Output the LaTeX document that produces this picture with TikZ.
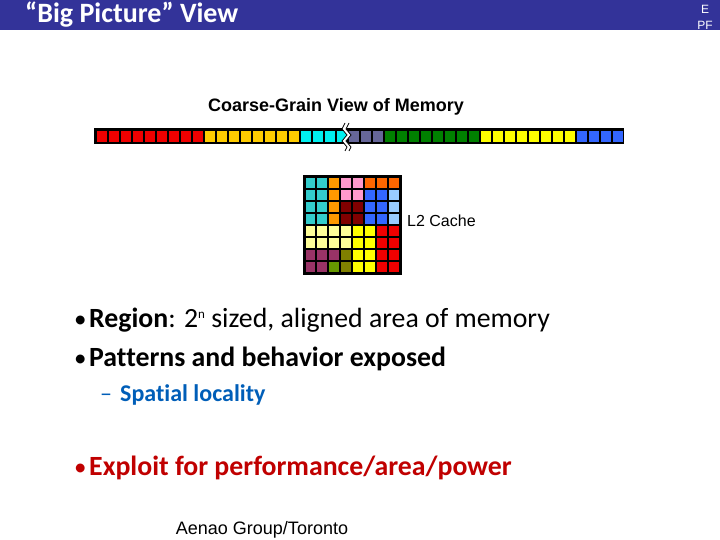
\documentclass[tikz,border=0pt]{standalone}
\usepackage{fontspec}
\setmainfont{Carlito}[Ligatures=NoCommon]
\newfontfamily\arialfont{Liberation Sans}
\usepackage{xcolor}
\usepackage{tikz}
\usetikzlibrary{positioning}

\definecolor{titleblue}{RGB}{51,51,153}
\definecolor{textred}{RGB}{192,0,0}
\definecolor{textblue}{RGB}{0,94,184}
% memory colours
\definecolor{mred}{RGB}{240,0,0}
\definecolor{mgold}{RGB}{255,204,0}
\definecolor{mcyan}{RGB}{0,240,240}
\definecolor{mslate}{RGB}{102,102,153}
\definecolor{mgreen}{RGB}{0,128,0}
\definecolor{myellow}{RGB}{255,255,0}
\definecolor{mblue}{RGB}{51,102,255}
% cache colours
\definecolor{cteal}{RGB}{51,204,204}
\definecolor{corange}{RGB}{255,153,0}
\definecolor{cpink}{RGB}{255,153,204}
\definecolor{cdorange}{RGB}{255,102,0}
\definecolor{cltblue}{RGB}{153,204,255}
\definecolor{cmaroon}{RGB}{128,0,0}
\definecolor{cltyellow}{RGB}{255,255,153}
\definecolor{cplum}{RGB}{153,51,102}
\definecolor{colive}{RGB}{128,128,0}
\definecolor{clime}{RGB}{102,153,0}

\newcommand{\bul}{\makebox[15pt][l]{\mdseries\fontsize{25}{28}\selectfont•}}

\begin{document}
\begin{tikzpicture}[
  x=1pt, y=-1pt,
  label/.style={font=\arialfont\fontsize{16}{18}\selectfont, inner sep=0pt},
  bullet/.style={anchor=base west, inner sep=0pt, font=\fontsize{27.8}{32}\selectfont},
  cell/.style={draw=black, line width=1.2pt}
]
\useasboundingbox (0,0) rectangle (720,540);

% title bar
\fill[titleblue] (0,0) rectangle (720,30);
\node (title) [anchor=base west, inner sep=0pt, text=white, font=\bfseries\fontsize{28}{32}\selectfont] at (25,23) {“Big Picture” View};
\node (tag) [inner sep=0pt, align=center, text=white, font=\arialfont\fontsize{12}{16}\selectfont] at (705,17) {E\\PF};

% coarse-grain memory strip
\node (memlabel) [label, anchor=base, font=\arialfont\bfseries\fontsize{18}{20}\selectfont] at (336,112) {Coarse-Grain View of Memory};
\fill[black] (94,128.5) rectangle (624,144.5);
\foreach \c [count=\i from 0] in {mred,mred,mred,mred,mred,mred,mred,mred,mred,
    mgold,mgold,mgold,mgold,mgold,mgold,mgold,mgold,mcyan,mcyan,mcyan,mcyan,
    mslate,mslate,mslate,mgreen,mgreen,mgreen,mgreen,mgreen,mgreen,mgreen,mgreen,
    myellow,myellow,myellow,myellow,myellow,myellow,myellow,myellow,
    mblue,mblue,mblue,mblue}
  \fill[\c] (96.5+12*\i,131) rectangle (106.5+12*\i,142);
% break mark
\fill[white] (345,123) -- (342,129) -- (347,135) -- (342,141) -- (347,147) -- (345,151)
  -- (349,151) -- (351,147) -- (346,141) -- (351,135) -- (346,129) -- (349,123) -- cycle;
\draw[line width=0.8pt] (345,123) -- (342,129) -- (347,135) -- (342,141) -- (347,147) -- (345,151);
\draw[line width=0.8pt] (349,123) -- (346,129) -- (351,135) -- (346,141) -- (351,147) -- (349,151);

% L2 cache grid
\foreach \row [count=\r from 0] in {
    {cteal,cteal,corange,cpink,cpink,cdorange,cdorange,cdorange},
    {cteal,cteal,corange,cpink,cpink,mblue,mblue,cltblue},
    {cteal,cteal,corange,cmaroon,cmaroon,mblue,mblue,cltblue},
    {cteal,cteal,corange,cmaroon,cmaroon,mblue,mblue,cltblue},
    {cltyellow,cltyellow,cltyellow,cltyellow,myellow,myellow,mred,mred},
    {cltyellow,cltyellow,cltyellow,cltyellow,myellow,myellow,mred,mred},
    {cplum,cplum,cplum,colive,myellow,myellow,mred,mred},
    {cplum,cplum,clime,colive,myellow,myellow,mred,mred}}
  \foreach \c [count=\k from 0] in \row
    \filldraw[cell, fill=\c] (304+12*\k,177+12*\r) rectangle (316+12*\k,189+12*\r);
\draw[line width=3pt] (304,177) rectangle (400,273);
\node (cache) [label, anchor=west] at (407,221) {L2 Cache};

% bullets
\node (b1) [bullet] at (74,327) {\bul\textbf{Region}: 2\raisebox{9pt}{\fontsize{13}{14}\selectfont n} sized, aligned area of memory};
\node (b2) [bullet] at (74,366) {\bul\textbf{Patterns and behavior exposed}};
\node (b3) [bullet, font=\fontsize{24}{28}\selectfont, text=textblue] at (100,401) {\makebox[20pt][l]{–}\textbf{Spatial locality}};
\node (b4) [bullet, text=textred] at (74,475) {\bul\textbf{Exploit for performance/area/power}};

\node (group) [label, font=\arialfont\fontsize{18}{20}\selectfont] at (262,530) {Aenao Group/Toronto};

\end{tikzpicture}
\end{document}
